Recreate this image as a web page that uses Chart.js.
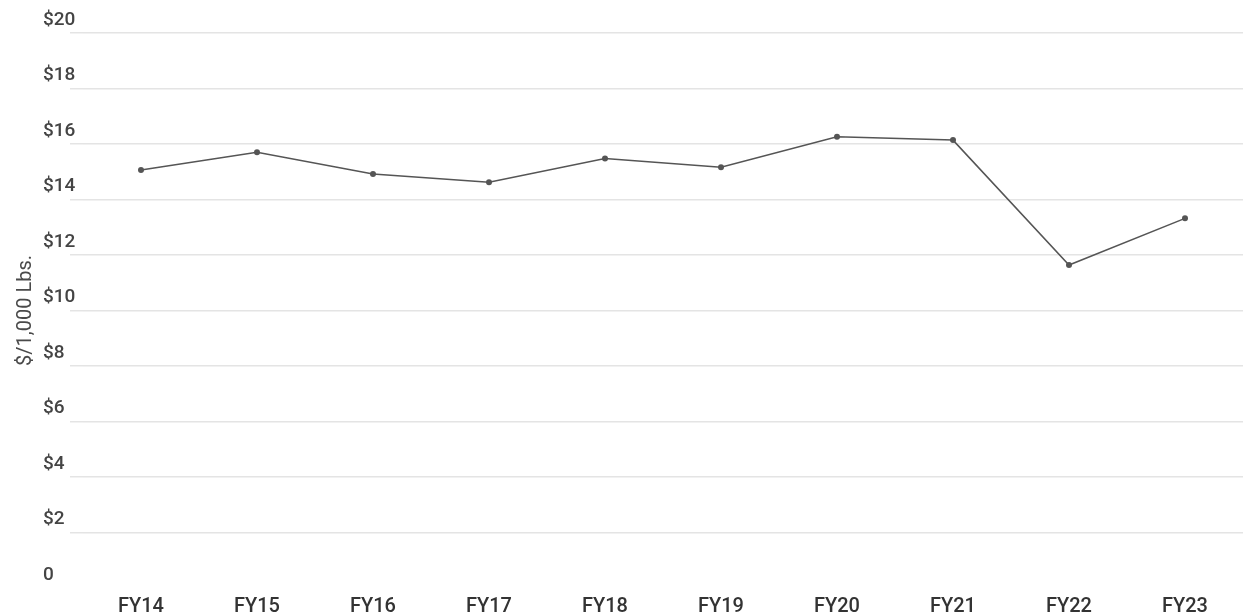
<!DOCTYPE html>
<html>
<head>
<meta charset="utf-8">
<script src="https://cdn.jsdelivr.net/npm/chart.js@4/dist/chart.umd.min.js"></script>
<style>
  html, body { margin: 0; padding: 0; background: #fff; }
  #wrap { width: 1248px; height: 615px; }
</style>
</head>
<body>
<div id="wrap"><canvas id="costChart" width="1248" height="615"></canvas></div>
<script>
// cost per 1,000 lbs, FY14 - FY23
const years = ['FY14', 'FY15', 'FY16', 'FY17', 'FY18', 'FY19', 'FY20', 'FY21', 'FY22', 'FY23'];
const costPer1000 = [15.06, 15.70, 14.92, 14.62, 15.48, 15.16, 16.26, 16.14, 11.64, 13.32];
const yTicks = [0, 2, 4, 6, 8, 10, 12, 14, 16, 18, 20];
const yTitle = '$/1,000 Lbs.';

const FONT = 'Roboto, "Noto Sans", sans-serif';

new Chart(document.getElementById('costChart'), {
    type: 'line',
    data: {
        labels: years,
        datasets: [{
            data: costPer1000,
            borderColor: '#555555',
            borderWidth: 1.5,
            backgroundColor: '#555555',
            pointBackgroundColor: '#555555',
            pointBorderWidth: 0,
            pointRadius: 3,
            tension: 0,
            fill: false,
        }]
    },
    options: {
        responsive: false,
        animation: false,
        layout: { padding: { top: 33, right: 5, bottom: 0, left: 10 } },
        plugins: { legend: { display: false }, tooltip: { enabled: false } },
        scales: {
            x: {
                offset: true,
                afterFit: s => { s.height = 27; },
                grid: { display: false, drawTicks: false },
                border: { display: false },
                ticks: {
                    color: '#333333',
                    padding: 7,
                    maxRotation: 0,
                    font: { family: FONT, size: 20, weight: '500' },
                }
            },
            y: {
                min: 0, max: 20,
                afterBuildTicks: s => { s.ticks = yTicks.map(v => ({ value: v })); },
                afterFit: s => { s.width = 40; },
                grid: {
                    color: ctx => ctx.tick && ctx.tick.value === 0 ? 'rgba(0,0,0,0)' : '#e4e4e4',
                    lineWidth: 1.5,
                    drawTicks: true,
                    tickLength: 13,
                },
                border: { display: false },
                ticks: {
                    crossAlign: 'far',
                    labelOffset: -13,
                    padding: 0,
                    color: '#444444',
                    font: { family: FONT, size: 19, weight: '500' },
                    callback: v => v === 0 ? '0' : '$' + v,
                }
            },
            yTitle: {
                type: 'linear',
                position: 'left',
                weight: 5,
                afterFit: s => { s.width = 33; },
                grid: { display: false, drawTicks: false },
                border: { display: false },
                ticks: { display: false },
                title: {
                    display: true,
                    text: yTitle,
                    color: '#4a4a4a',
                    padding: { top: 4, bottom: 4 },
                    font: { family: FONT, size: 20 },
                }
            }
        }
    }
});
</script>
</body>
</html>
